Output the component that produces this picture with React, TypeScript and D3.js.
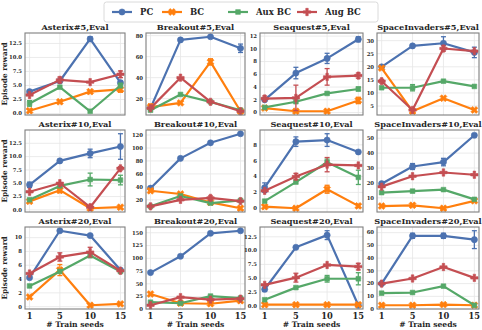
import React from 'react';
import * as d3 from 'd3';

const width = 482;
const height = 330;

const seeds = ['1', '5', '10', '15'];
const seriesNames = ['PC', 'BC', 'Aux BC', 'Aug BC'];
const colors = ['#4c72b0', '#ff7f0e', '#55a868', '#c44e52'];
const games = ['Asterix', 'Breakout', 'Seaquest', 'SpaceInvaders'];
const levels = ['5', '10', '20'];

// one row per series: PC, BC, Aux BC, Aug BC
const asterix5 = [[3.9, 5.8, 13.3, 5.5], [0.5, 2.1, 3.9, 4.3], [1.8, 4.7, 0.4, 5.0], [3.3, 6.0, 5.6, 7.0]];
const breakout5 = [[11, 76, 79, 68], [12, 16, 55, 8], [9, 24, 17, 9], [11, 40, 17, 8]];
const seaquest5 = [[2.0, 6.2, 8.5, 11.5], [0.7, 0.2, 0.2, 1.9], [0.8, 1.7, 3.0, 3.7], [2.2, 2.3, 5.6, 5.8]];
const spaceInvaders5 = [[20, 28, 29, 25.5], [19.5, 3, 8, 3.5], [12, 12, 14.5, 12.5], [14.5, 3.5, 27, 26]];
const asterix10 = [[4.7, 9.2, 10.6, 11.9], [1.6, 3.7, 0.3, 0.5], [1.9, 4.5, 5.7, 5.6], [3.4, 5.0, 0.5, 7.8]];
const breakout10 = [[38, 84, 108, 122], [34, 29, 16, 7], [10, 26, 15, 19], [10, 20, 23, 18]];
const seaquest10 = [[2.6, 8.4, 8.6, 7.1], [0.2, 0.0, 2.4, 0.3], [0.9, 3.3, 5.8, 3.9], [2.2, 4.0, 5.5, 5.4]];
const spaceInvaders10 = [[19.5, 31, 34, 52], [4.5, 5, 3, 8], [13.5, 14.5, 15.5, 9], [17.5, 24.5, 27, 25.5]];
const asterix20 = [[4.2, 11.0, 10.3, 5.3], [1.4, 5.3, 0.2, 0.4], [3.0, 5.1, 7.4, 5.1], [4.8, 7.2, 7.9, 5.2]];
const breakout20 = [[72, 104, 149, 154], [30, 12, 11, 17], [14, 12, 26, 22], [8, 24, 19, 21]];
const seaquest20 = [[3.0, 10.6, 12.8, 0.1], [0.2, 0.2, 0.2, 0.2], [1.1, 3.3, 4.9, 4.9], [3.8, 5.1, 7.4, 7.1]];
const spaceInvaders20 = [[20, 57.5, 57.5, 54.5], [3, 3, 3.5, 3], [12.5, 13, 18, 3], [20, 24, 33, 24.5]];

const panelData = [
  [asterix5, breakout5, seaquest5, spaceInvaders5],
  [asterix10, breakout10, seaquest10, spaceInvaders10],
  [asterix20, breakout20, seaquest20, spaceInvaders20],
];

const yTickValues = [
  [[0, 2.5, 5, 7.5, 10, 12.5], [20, 40, 60, 80], [0, 2, 4, 6, 8, 10, 12], [5, 10, 15, 20, 25, 30]],
  [[0, 2.5, 5, 7.5, 10, 12.5], [20, 40, 60, 80, 100, 120], [0, 2, 4, 6, 8], [0, 10, 20, 30, 40, 50]],
  [[0, 2, 4, 6, 8, 10], [0, 25, 50, 75, 100, 125, 150], [0, 2.5, 5, 7.5, 10, 12.5], [0, 10, 20, 30, 40, 50, 60]],
];

// [row, col, series, point, half-width]
const errorBars = [
  [0, 0, 0, 2, 0.4], [0, 0, 0, 3, 0.3], [0, 0, 3, 1, 0.5], [0, 0, 3, 3, 0.6], [0, 0, 1, 3, 0.5], [0, 0, 2, 0, 0.5], [0, 0, 2, 3, 0.4],
  [0, 1, 0, 3, 4], [0, 1, 1, 2, 3], [0, 1, 1, 0, 3],
  [0, 2, 0, 1, 0.9], [0, 2, 0, 2, 0.8], [0, 2, 0, 3, 0.4], [0, 2, 3, 1, 2.0], [0, 2, 3, 2, 1.3], [0, 2, 3, 3, 0.4], [0, 2, 1, 3, 0.5], [0, 2, 3, 0, 0.4], [0, 2, 2, 3, 0.3],
  [0, 3, 0, 2, 2.5], [0, 3, 0, 3, 2], [0, 3, 3, 2, 1], [0, 3, 2, 1, 1.2], [0, 3, 3, 0, 0.7],
  [1, 0, 0, 3, 2.4], [1, 0, 0, 2, 0.8], [1, 0, 2, 2, 1.2], [1, 0, 2, 3, 0.9], [1, 0, 1, 1, 0.5], [1, 0, 0, 0, 0.5], [1, 0, 3, 3, 0.3],
  [1, 1, 3, 2, 3], [1, 1, 1, 0, 2],
  [1, 2, 0, 0, 0.6], [1, 2, 0, 1, 0.6], [1, 2, 0, 2, 0.8], [1, 2, 2, 2, 0.4], [1, 2, 2, 3, 0.9], [1, 2, 3, 2, 0.9], [1, 2, 3, 1, 0.4], [1, 2, 1, 2, 0.5], [1, 2, 1, 3, 0.2],
  [1, 3, 0, 1, 2], [1, 3, 0, 2, 2.5], [1, 3, 0, 3, 1],
  [2, 0, 1, 1, 0.8], [2, 0, 3, 1, 0.6], [2, 0, 3, 2, 0.7], [2, 0, 2, 2, 0.3],
  [2, 2, 0, 2, 0.8], [2, 2, 0, 0, 0.4], [2, 2, 3, 1, 0.8], [2, 2, 3, 3, 0.6], [2, 2, 2, 2, 0.6], [2, 2, 2, 3, 1.1],
  [2, 3, 0, 1, 2], [2, 3, 0, 2, 2], [2, 3, 0, 3, 7],
];

const colLeft = [25, 146, 260, 377];
const colWidth = [100, 99, 103, 102];
const rowTop = [33, 130, 227];
const panelHeight = 82;
const font = '"DejaVu Serif", serif';

const symbols = [
  { type: d3.symbolCircle, size: 30, rotate: 0 },
  { type: d3.symbolCross, size: 30, rotate: 45 },
  { type: d3.symbolSquare, size: 22, rotate: 0 },
  { type: d3.symbolCross, size: 30, rotate: 0 },
];

const Marker = ({ s, x, y, color }) => (
  <path
    d={d3.symbol(symbols[s].type, symbols[s].size)()}
    transform={`translate(${x},${y}) rotate(${symbols[s].rotate})`}
    fill={color}
    stroke={color}
    strokeWidth={0.6}
  />
);

const Panel = ({ row, col }) => {
  const data = panelData[row][col];
  const w = colWidth[col];
  const errs = errorBars.filter((e) => e[0] === row && e[1] === col);
  const lo = d3.min(data.flatMap((d, s) => d.map((v, i) => {
    const e = errs.find((x) => x[2] === s && x[3] === i);
    return v - (e ? e[4] : 0);
  })));
  const hi = d3.max(data.flatMap((d, s) => d.map((v, i) => {
    const e = errs.find((x) => x[2] === s && x[3] === i);
    return v + (e ? e[4] : 0);
  })));
  const pad = (hi - lo) * 0.05;
  const x = d3.scalePoint().domain(seeds).range([0, w]).padding(0.15);
  const y = d3.scaleLinear().domain([lo - pad, hi + pad]).range([panelHeight, 0]);
  const line = d3.line().x((d, i) => x(seeds[i])).y((d) => y(d));
  const ticks = yTickValues[row][col].filter((t) => y(t) >= -0.5 && y(t) <= panelHeight + 0.5);
  const fmt = ticks.some((t) => !Number.isInteger(t)) ? d3.format('.1f') : d3.format('d');
  return (
    <g transform={`translate(${colLeft[col]},${rowTop[row]})`}>
      <rect width={w} height={panelHeight} fill="white" />
      {ticks.map((t) => (
        <g key={t}>
          <line x1={0} x2={w} y1={y(t)} y2={y(t)} stroke="#e6e6e6" strokeWidth={0.8} />
          <text x={-3} y={y(t)} dy="0.35em" textAnchor="end" fontSize={5.3} fontWeight="bold" fontFamily={font} fill="#262626">
            {fmt(t)}
          </text>
        </g>
      ))}
      {seeds.map((s) => (
        <line key={s} x1={x(s)} x2={x(s)} y1={0} y2={panelHeight} stroke="#e6e6e6" strokeWidth={0.8} />
      ))}
      {data.map((d, s) => (
        <g key={s}>
          <path d={line(d)} fill="none" stroke={colors[s]} strokeWidth={2.2} strokeLinejoin="round" />
          {errs.filter((e) => e[2] === s).map((e, k) => {
            const cx = x(seeds[e[3]]);
            const v = d[e[3]];
            return (
              <g key={k} stroke={colors[s]} strokeWidth={1.3}>
                <line x1={cx} x2={cx} y1={y(v - e[4])} y2={y(v + e[4])} />
                <line x1={cx - 2.5} x2={cx + 2.5} y1={y(v - e[4])} y2={y(v - e[4])} />
                <line x1={cx - 2.5} x2={cx + 2.5} y1={y(v + e[4])} y2={y(v + e[4])} />
              </g>
            );
          })}
          {d.map((v, i) => (
            <Marker key={i} s={s} x={x(seeds[i])} y={y(v)} color={colors[s]} />
          ))}
        </g>
      ))}
      <rect width={w} height={panelHeight} fill="none" stroke="#7f7f7f" strokeWidth={1.1} />
      <text x={w / 2} y={-3.5} textAnchor="middle" fontSize={8.2} fontWeight="bold" fontFamily={font} fill="#262626">
        {`${games[col]}#${levels[row]},Eval`}
      </text>
      {row === 2 && seeds.map((s) => (
        <text key={s} x={x(s)} y={panelHeight + 9.5} textAnchor="middle" fontSize={8.3} fontWeight="bold" fontFamily={font} fill="#262626">
          {s}
        </text>
      ))}
      {row === 2 && (
        <text x={w / 2} y={panelHeight + 18} textAnchor="middle" fontSize={7.6} fontWeight="bold" fontFamily={font} fill="#262626">
          # Train seeds
        </text>
      )}
      {col === 0 && (
        <text transform={`translate(-18,${panelHeight / 2}) rotate(-90)`} textAnchor="middle" fontSize={7.3} fontWeight="bold" fontFamily={font} fill="#262626">
          Episode reward
        </text>
      )}
    </g>
  );
};

const legendX = [112, 162, 228, 297];

const Legend = () => (
  <g>
    <rect x={104} y={2} width={274} height={20} rx={2.5} fill="white" stroke="#d0d0d0" strokeWidth={0.8} />
    {seriesNames.map((name, s) => (
      <g key={name}>
        <line x1={legendX[s]} x2={legendX[s] + 20} y1={12} y2={12} stroke={colors[s]} strokeWidth={2.2} />
        <Marker s={s} x={legendX[s] + 10} y={12} color={colors[s]} />
        <text x={legendX[s] + 28} y={12} dy="0.35em" fontSize={8.5} fontWeight="bold" fontFamily={font} fill="#262626">
          {name}
        </text>
      </g>
    ))}
  </g>
);

const App = () => (
  <svg width={width} height={height} style={{ position: 'absolute', left: 0, top: 0, background: 'white' }}>
    {levels.map((l, r) => games.map((g, c) => <Panel key={`${r}-${c}`} row={r} col={c} />))}
    <Legend />
  </svg>
);

export default App;
